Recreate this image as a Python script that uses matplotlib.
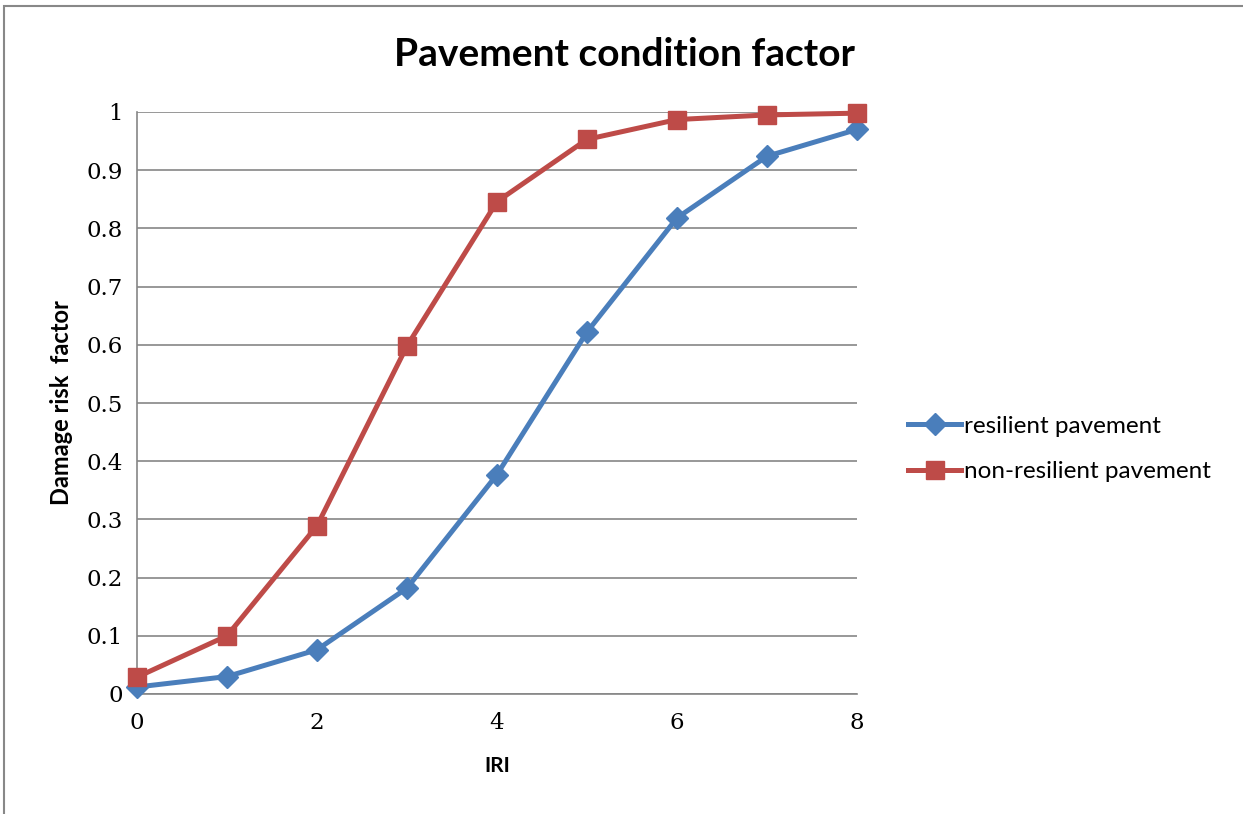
import matplotlib.pyplot as plt
from matplotlib.patches import Rectangle

# Data
iri = [0, 1, 2, 3, 4, 5, 6, 7, 8]
resilient = [0.012, 0.030, 0.076, 0.182, 0.377, 0.622, 0.818, 0.924, 0.970]
non_resilient = [0.029, 0.100, 0.289, 0.598, 0.846, 0.953, 0.987, 0.995, 0.998]
y_ticks = [0, 0.1, 0.2, 0.3, 0.4, 0.5, 0.6, 0.7, 0.8, 0.9, 1]
y_tick_labels = ['0', '0.1', '0.2', '0.3', '0.4', '0.5', '0.6', '0.7', '0.8', '0.9', '1']
x_ticks = [0, 2, 4, 6, 8]

fig = plt.figure(figsize=(12.43, 8.14), dpi=100)
W, H = 1243, 814
ax = fig.add_axes([137 / W, 1 - 694 / H, 720 / W, 582 / H])

# Outer chart border (only top and left visible in the crop)
fig.patches.append(Rectangle((4 / W, -0.1), 1.2, 1 - 6 / H + 0.1, transform=fig.transFigure,
                             fill=False, edgecolor='#888888', linewidth=1.5))

grid_color = '#868686'
ax.plot(iri, resilient, color='#4A7EBB', lw=3.6, marker='D', markersize=11,
        label='resilient pavement', zorder=3, clip_on=False)
ax.plot(iri, non_resilient, color='#BE4B48', lw=3.6, marker='s', markersize=13,
        label='non-resilient pavement', zorder=4, clip_on=False)

ax.set_xlim(0, 8)
ax.set_ylim(0, 1)
ax.set_xticks(x_ticks)
ax.set_yticks(y_ticks)
ax.set_yticklabels(y_tick_labels)
ax.grid(axis='y', color=grid_color, lw=1.2)
ax.set_axisbelow(True)

for side in ['top', 'right']:
    ax.spines[side].set_visible(False)
for side in ['left', 'bottom']:
    ax.spines[side].set_color(grid_color)
    ax.spines[side].set_linewidth(1.2)

ax.tick_params(axis='both', length=0, labelsize=16.5, pad=10)
for lbl in ax.get_xticklabels() + ax.get_yticklabels():
    lbl.set_family('DejaVu Serif')
ax.tick_params(axis='x', pad=13)

ax.set_xlabel('IRI', fontsize=15, fontweight='bold', family='Lato', labelpad=16)
ax.set_ylabel('Damage risk  factor', fontsize=17, fontweight='bold', family='Lato', labelpad=10)
fig.text(624 / W, 1 - 55 / H, 'Pavement condition factor', fontsize=28, fontweight='bold',
         family='Lato', ha='center', va='center')

ax.legend(loc='center left', bbox_to_anchor=(886 / W, 1 - 449 / H), bbox_transform=fig.transFigure,
          frameon=False, prop={'family': 'Lato', 'size': 17.5}, handlelength=2.2,
          handletextpad=0.1, labelspacing=1.0)

fig.savefig('out.png', dpi=100)
